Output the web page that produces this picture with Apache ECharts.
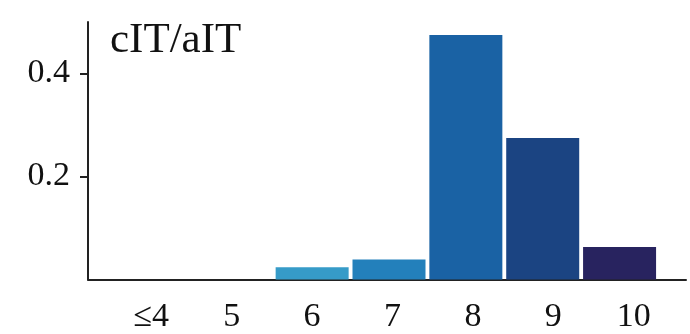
<!DOCTYPE html>
<html>
<head>
<meta charset="utf-8">
<script src="https://cdn.jsdelivr.net/npm/echarts@6/dist/echarts.min.js"></script>
<style>html,body{margin:0;padding:0;background:#fff}#c{width:690px;height:334px}</style>
</head>
<body>
<div id="c"></div>
<script>
var categories = ['≤4', '5', '6', '7', '8', '9', '10'];
var values = [0, 0, 0.024, 0.039, 0.475, 0.275, 0.063];
var barColors = ['#ffffd9', '#c7e9b4', '#369bc8', '#2380bb', '#1a62a4', '#1b4482', '#28235f'];
var yTicks = [0.2, 0.4];
var titleText = 'cIT/aIT';

var FONT = '"Liberation Serif", "Times New Roman", serif';
var chart = echarts.init(document.getElementById('c'), null, {renderer: 'canvas'});
chart.setOption({
  animation: false,
  backgroundColor: '#ffffff',
  title: {
    text: titleText, left: 105, top: 14,
    textStyle: {fontFamily: FONT, fontSize: 43, fontWeight: 'normal', color: '#111'}
  },
  grid: [
    {left: 88, right: 4, top: 22, bottom: 54.5},
    {left: 120, width: 538, top: 22, bottom: 54.5},
    {left: 111, width: 563, top: 22, bottom: 54.5}
  ],
  xAxis: [
    {gridIndex: 0, type: 'value', min: 0, max: 1,
     axisLine: {show: true, lineStyle: {color: '#222', width: 2}},
     axisTick: {show: false}, axisLabel: {show: false}, splitLine: {show: false}},
    {gridIndex: 1, type: 'category', data: categories,
     axisLine: {show: false}, axisTick: {show: false}, axisLabel: {show: false}},
    {gridIndex: 2, type: 'category', data: categories,
     axisLine: {show: false}, axisTick: {show: false},
     axisLabel: {show: true, margin: 21, fontFamily: FONT, fontSize: 34, color: '#111'}}
  ],
  yAxis: [
    {gridIndex: 0, type: 'value', min: 0, max: 0.5,
     axisLine: {show: true, lineStyle: {color: '#222', width: 2}},
     axisTick: {show: true, length: 8, customValues: yTicks, lineStyle: {color: '#222', width: 2}},
     axisLabel: {show: true, customValues: yTicks, margin: 18, fontFamily: FONT, fontSize: 34, color: '#111',
                 formatter: function (v) { return v.toFixed(1); }},
     splitLine: {show: false}},
    {gridIndex: 1, type: 'value', min: 0, max: 0.5, show: false},
    {gridIndex: 2, type: 'value', min: 0, max: 0.5, show: false}
  ],
  series: [{
    type: 'bar', xAxisIndex: 1, yAxisIndex: 1,
    barWidth: 73,
    data: values.map(function (v, i) { return {value: v, itemStyle: {color: barColors[i]}}; })
  }]
});
</script>
</body>
</html>
